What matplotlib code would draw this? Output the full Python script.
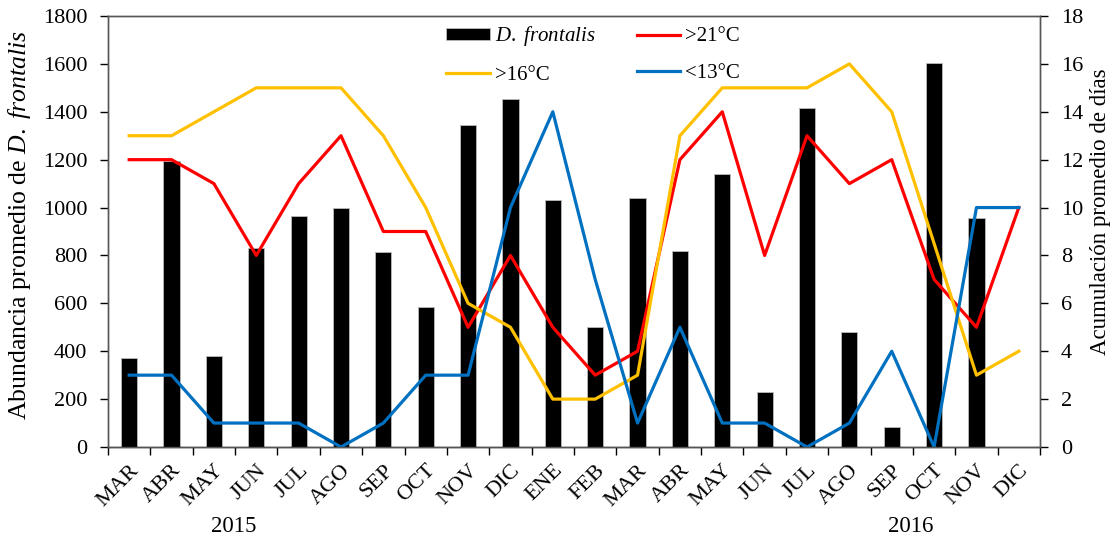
import numpy as np
import matplotlib.pyplot as plt

plt.rcParams['font.family'] = ['Liberation Serif', 'DejaVu Serif']
plt.rcParams['mathtext.fontset'] = 'custom'
plt.rcParams['mathtext.rm'] = 'Liberation Serif'
plt.rcParams['mathtext.it'] = 'Liberation Serif:italic'

meses = ['MAR', 'ABR', 'MAY', 'JUN', 'JUL', 'AGO', 'SEP', 'OCT', 'NOV', 'DIC',
         'ENE', 'FEB', 'MAR', 'ABR', 'MAY', 'JUN', 'JUL', 'AGO', 'SEP', 'OCT', 'NOV', 'DIC']

# abundancia promedio de D. frontalis por mes
abundancia = [370, 1195, 378, 830, 965, 1000, 815, 585, 1345, 1455,
              1030, 500, 1040, 820, 1140, 228, 1415, 480, 85, 1605, 958, 0]

# acumulación promedio de días
dias_21 = [12, 12, 11, 8, 11, 13, 9, 9, 5, 8, 5, 3, 4, 12, 14, 8, 13, 11, 12, 7, 5, 10]
dias_16 = [13, 13, 14, 15, 15, 15, 13, 10, 6, 5, 2, 2, 3, 13, 15, 15, 15, 16, 14, 8.5, 3, 4]
dias_13 = [3, 3, 1, 1, 1, 0, 1, 3, 3, 10, 14, 7, 1, 5, 1, 1, 0, 1, 4, 0, 10, 10]

x = np.arange(len(meses))

fig = plt.figure(figsize=(11.2, 5.4), dpi=100)
ax = fig.add_axes([108 / 1120, 93 / 540, 932 / 1120, 431 / 540])
ax2 = ax.twinx()

barras = ax.bar(x, abundancia, width=0.38, color='black', edgecolor='#bbbbbb',
                linewidth=0.6)
lw = 2.3
l21, = ax2.plot(x, dias_21, color='#FF0000', lw=lw)
l16, = ax2.plot(x, dias_16, color='#FFC000', lw=lw)
l13, = ax2.plot(x, dias_13, color='#0070C0', lw=lw)

ax.set_xlim(-0.5, len(meses) - 0.5)
ax.set_ylim(0, 1800)
ax.set_yticks(np.arange(0, 1801, 200))
ax2.set_ylim(0, 18)
ax2.set_yticks(np.arange(0, 19, 2))

# ticks en los límites entre meses, etiquetas centradas
ax.set_xticks(np.arange(-0.5, len(meses), 1))
ax.set_xticklabels([])
ax.set_xticks(x, minor=True)
ax.set_xticklabels(meses, minor=True, rotation=45, ha='right', va='top',
                   rotation_mode='anchor', fontsize=16)
ax.tick_params(axis='x', which='minor', length=0, pad=10)
ax.tick_params(axis='x', which='major', length=6, width=1, direction='out')
ax.tick_params(axis='y', length=6, width=1, direction='out', labelsize=16, pad=9)
ax2.tick_params(axis='y', length=6, width=1, direction='out', labelsize=16, pad=9)

for a in (ax, ax2):
    for s in a.spines.values():
        s.set_color('#555555')
        s.set_linewidth(1.0)
ax.spines['bottom'].set_color('black')

ax.set_ylabel(r'Abundancia promedio de $\it{D.\ frontalis}$', fontsize=18.5)
ax.yaxis.set_label_coords(-0.080, 0.515)
ax2.set_ylabel('Acumulación promedio de días', fontsize=16.5)
ax2.yaxis.set_label_coords(1.0536, 0.545)

fig.text(234 / 1120, 1 - 527 / 540, '2015', ha='center', va='center', fontsize=16.5)
fig.text(911 / 1120, 1 - 527 / 540, '2016', ha='center', va='center', fontsize=16.5)

leg = ax2.legend([barras, l16, l21, l13],
                 [r'$\it{D.\ frontalis}$', '>16°C', '>21°C', '<13°C'],
                 ncol=2, loc='upper left', bbox_to_anchor=(0.343, 1.024),
                 frameon=False, fontsize=15, handlelength=2.07, handleheight=0.55,
                 handletextpad=0.24, columnspacing=2.0, labelspacing=0.85)

fig.savefig('out.png', dpi=100)
